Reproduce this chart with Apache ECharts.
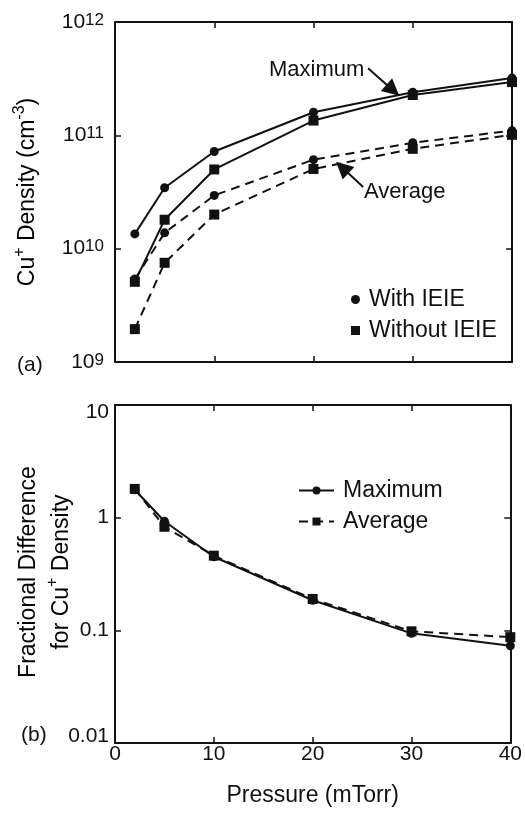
<!DOCTYPE html>
<html>
<head>
<meta charset="utf-8">
<script src="https://cdn.jsdelivr.net/npm/echarts@6/dist/echarts.min.js"></script>
<style>
  html, body { margin: 0; padding: 0; background: #fff; }
  #main { width: 525px; height: 816px; }
</style>
</head>
<body>
<div id="main"></div>
<script>
// pressure (mTorr)
var pressure = [2, 5, 10, 20, 30, 40];
// (a) Cu+ density, cm^-3
var maxWith = [1.35e10, 3.45e10, 7.2e10, 1.6e11, 2.4e11, 3.2e11];
var maxWithout = [5.1e9, 1.8e10, 5.0e10, 1.35e11, 2.27e11, 2.95e11];
var avgWith = [5.4e9, 1.38e10, 2.95e10, 6.1e10, 8.6e10, 1.1e11];
var avgWithout = [1.95e9, 7.5e9, 2.0e10, 5.05e10, 7.6e10, 1.01e11];
// (b) fractional difference
var fracMax = [1.77, 0.93, 0.45, 0.185, 0.094, 0.073];
var fracAvg = [1.8, 0.83, 0.46, 0.19, 0.098, 0.087];
var fracTicks = ['0.01', '0.1', '1', '10'];

// annotation arrows (data coords)
var maxArrow = [[25.5, 3.9e11], [28.0, 2.5e11]];
var avgArrow = [[25.0, 3.5e10], [22.9, 5.2e10]];

var FONT = '"Liberation Sans", Arial, Helvetica, sans-serif';
var INK = '#111';

function pairs(ys) {
    return pressure.map(function (x, i) { return [x, ys[i]]; });
}

var chart = echarts.init(document.getElementById('main'));

var tickRich = {
    b: { fontSize: 21, fontFamily: FONT, color: INK },
    s: { fontSize: 17, fontFamily: FONT, color: INK, verticalAlign: 'top', lineHeight: 16 }
};
var titleRich = {
    b: { fontSize: 23, fontFamily: FONT, color: INK, lineHeight: 33 },
    s: { fontSize: 16, fontFamily: FONT, color: INK, verticalAlign: 'top', lineHeight: 16 }
};
var fracRich = {
    n: { fontSize: 21, fontFamily: FONT, color: INK },
    lo: { fontSize: 21, fontFamily: FONT, color: INK, padding: [0, 0, 14, 0] },
    hi: { fontSize: 21, fontFamily: FONT, color: INK, padding: [14, 0, 0, 0] }
};

function frameAxes(gi, ymin, ymax, leftLabels, bottomLabels) {
    var tick = { show: true, inside: true, length: 6, lineStyle: { color: INK, width: 1.5 } };
    var line = { show: true, onZero: false, lineStyle: { color: INK, width: 2 } };
    var x = [
        { gridIndex: gi, type: 'value', min: 0, max: 40, interval: 10, position: 'bottom',
          axisLine: line, axisTick: tick, splitLine: { show: false },
          axisLabel: { show: bottomLabels, fontSize: 21, fontFamily: FONT, color: INK, margin: 1 },
          name: bottomLabels ? 'Pressure (mTorr)' : '', nameLocation: 'middle', nameGap: 41,
          nameTextStyle: { fontSize: 23, fontFamily: FONT, color: INK } },
        { gridIndex: gi, type: 'value', min: 0, max: 40, interval: 10, position: 'top',
          axisLine: line, axisTick: tick, splitLine: { show: false }, axisLabel: { show: false } }
    ];
    var y = [
        { gridIndex: gi, type: 'log', logBase: 10, min: ymin, max: ymax, position: 'left',
          axisLine: line, axisTick: tick, splitLine: { show: false }, minorTick: { show: false },
          axisLabel: leftLabels },
        { gridIndex: gi, type: 'log', logBase: 10, min: ymin, max: ymax, position: 'right',
          axisLine: line, axisTick: tick, splitLine: { show: false }, axisLabel: { show: false } }
    ];
    return { x: x, y: y };
}

var topAxes = frameAxes(0, 1e9, 1e12, {
    margin: 11,
    formatter: function (v) { return '{b|10}{s|' + Math.round(Math.log10(v)) + '}'; },
    rich: tickRich
}, false);
var botAxes = frameAxes(1, 0.01, 10, {
    margin: 6,
    formatter: function (v) {
        var i = Math.round(Math.log10(v)) + 2;
        var st = i === 0 ? 'lo' : (i === fracTicks.length - 1 ? 'hi' : 'n');
        return '{' + st + '|' + fracTicks[i] + '}';
    },
    rich: fracRich
}, true);

function lineSeries(name, data, symbol, dashed, xi, yi, extra) {
    var s = {
        name: name, type: 'line', xAxisIndex: xi, yAxisIndex: yi,
        data: pairs(data), symbol: symbol, symbolSize: symbol === 'rect' ? 10 : 9,
        showSymbol: true, animation: false,
        lineStyle: { color: INK, width: 2, type: dashed ? [9, 6] : 'solid' },
        itemStyle: { color: INK }
    };
    for (var k in extra) s[k] = extra[k];
    return s;
}

function arrowLine(pts) {
    return {
        silent: true, animation: false,
        symbol: ['none', 'triangle'], symbolSize: 17,
        label: { show: false },
        itemStyle: { color: INK },
        lineStyle: { color: INK, width: 2, type: 'solid' },
        data: [[{ coord: pts[0] }, { coord: pts[1] }]]
    };
}

var option = {
    backgroundColor: '#fff',
    textStyle: { fontFamily: FONT },
    grid: [
        { left: 115, top: 22, width: 397, height: 340 },
        { left: 115, top: 405, width: 397, height: 338 }
    ],
    xAxis: topAxes.x.concat(botAxes.x),
    yAxis: topAxes.y.concat(botAxes.y),
    legend: [
        { orient: 'vertical', left: 346, top: 283, itemGap: 8, itemWidth: 9, itemHeight: 9,
          selectedMode: false,
          textStyle: { fontSize: 23, fontFamily: FONT, color: INK, padding: [0, 0, 0, 4] },
          data: [{ name: 'With IEIE', icon: 'circle' }, { name: 'Without IEIE', icon: 'rect' }] },
        { orient: 'vertical', left: 293, top: 474, itemGap: 8, itemWidth: 35, itemHeight: 10,
          selectedMode: false,
          textStyle: { fontSize: 23, fontFamily: FONT, color: INK, padding: [0, 0, 0, 4] },
          data: ['Maximum', 'Average'] }
    ],
    series: [
        lineSeries('With IEIE', maxWith, 'circle', false, 0, 0, { markLine: arrowLine(maxArrow) }),
        lineSeries('Without IEIE', maxWithout, 'rect', false, 0, 0, {}),
        lineSeries('With IEIE', avgWith, 'circle', true, 0, 0, { markLine: arrowLine(avgArrow) }),
        lineSeries('Without IEIE', avgWithout, 'rect', true, 0, 0, {}),
        lineSeries('Maximum', fracMax, 'circle', false, 2, 2, {}),
        lineSeries('Average', fracAvg, 'rect', true, 2, 2, {})
    ],
    graphic: [
        { type: 'text', x: 28, y: 192, rotation: Math.PI / 2,
          style: { text: '{b|Cu}{s|+}{b| Density (cm}{s|-3}{b|)}', rich: titleRich,
                   align: 'center', verticalAlign: 'middle' } },
        { type: 'text', x: 45, y: 572, rotation: Math.PI / 2,
          style: { text: '{b|Fractional Difference}\n{b|for Cu}{s|+}{b| Density}', rich: titleRich,
                   align: 'center', verticalAlign: 'middle' } },
        { type: 'text', x: 17, y: 365,
          style: { text: '(a)', fontSize: 21, fontFamily: FONT, fill: INK, verticalAlign: 'middle' } },
        { type: 'text', x: 21, y: 735,
          style: { text: '(b)', fontSize: 21, fontFamily: FONT, fill: INK, verticalAlign: 'middle' } },
        { type: 'text', x: 269, y: 70,
          style: { text: 'Maximum', fontSize: 22, fontFamily: FONT, fill: INK, verticalAlign: 'middle' } },
        { type: 'text', x: 364, y: 192,
          style: { text: 'Average', fontSize: 22, fontFamily: FONT, fill: INK, verticalAlign: 'middle' } }
    ]
};

chart.setOption(option);
</script>
</body>
</html>
